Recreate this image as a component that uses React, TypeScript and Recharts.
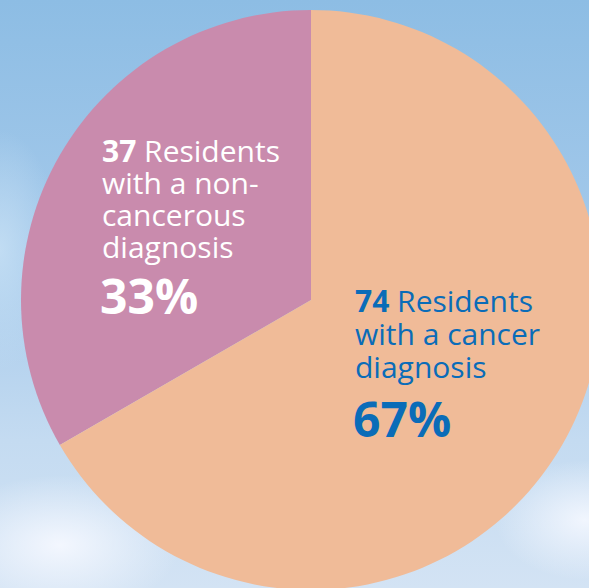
import { PieChart, Pie, Cell } from "recharts";

const categories = ["non-cancerous", "cancer"];
const residents = [37, 74];
const percents = ["33%", "67%"];
const lineTexts = [
  ["Residents", "with a non-", "cancerous", "diagnosis"],
  ["Residents", "with a cancer", "diagnosis"],
];

const COLORS = ["#C98BAD", "#F0BB98"];
const TEXT_COLORS = ["#FFFFFF", "#0A6CB8"];

const data = categories.map((name, i) => ({ name, value: residents[i] }));

// label blocks placed relative to the pie centre
const BLOCKS = [
  { dx: -209, dy: -138.5, lh: 32, pct: 56 },
  { dx: 44, dy: 11.5, lh: 33.3, pct: 59 },
];

// eslint-disable-next-line @typescript-eslint/no-explicit-any
function SliceLabel(props: any) {
  const { cx, cy, index } = props;
  const b = BLOCKS[index];
  const x = cx + b.dx;
  const y = cy + b.dy;
  const lines = lineTexts[index];
  const fill = TEXT_COLORS[index];
  return (
    <g style={{ fontFamily: "'Open Sans', sans-serif" }} fill={fill}>
      {lines.map((t, i) => (
        <text key={i} x={x} y={y + i * b.lh} fontSize={30} fontWeight={500} fill={fill}>
          {i === 0 ? (
            <>
              <tspan fontWeight={700}>{residents[index]}</tspan>
              <tspan> {t}</tspan>
            </>
          ) : (
            t
          )}
        </text>
      ))}
      <text
        x={x - 2}
        y={y + (lines.length - 1) * b.lh + b.pct}
        fontSize={48}
        fontWeight={700}
        fill={fill}
      >
        {percents[index]}
      </text>
    </g>
  );
}

export default function App() {
  return (
    <div
      style={{
        position: "fixed",
        left: 0,
        top: 0,
        width: 589,
        height: 588,
        overflow: "hidden",
        background: [
          "radial-gradient(ellipse 120px 70px at 60px 545px, rgba(245,248,255,0.95), rgba(245,248,255,0) 100%)",
          "radial-gradient(ellipse 90px 60px at 585px 520px, rgba(245,248,255,0.9), rgba(245,248,255,0) 100%)",
          "radial-gradient(ellipse 60px 120px at 0px 250px, rgba(200,225,245,0.8), rgba(200,225,245,0) 100%)",
          "linear-gradient(180deg, #8DBDE4 0%, #A6CAEB 45%, #C4DBF1 75%, #D3E3F4 100%)",
        ].join(", "),
      }}
    >
      <PieChart width={589} height={588} margin={{ top: 0, right: 0, bottom: 0, left: 0 }}>
        <Pie
          data={data}
          dataKey="value"
          nameKey="name"
          cx={311}
          cy={300}
          outerRadius={290}
          startAngle={90}
          endAngle={450}
          stroke="none"
          label={SliceLabel}
          labelLine={false}
          isAnimationActive={false}
        >
          {data.map((d, i) => (
            <Cell key={d.name} fill={COLORS[i]} />
          ))}
        </Pie>
      </PieChart>
    </div>
  );
}
